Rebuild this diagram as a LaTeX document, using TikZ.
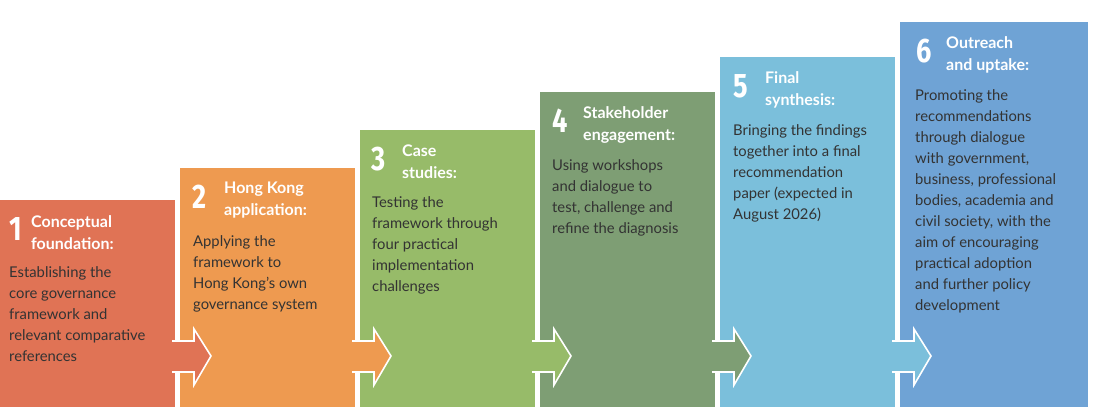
\documentclass[tikz,border=0pt]{standalone}
\usepackage{fontspec}
\setmainfont{Lato}
\newfontfamily\numfont{Fira Sans}
\definecolor{cA}{HTML}{E07355}
\definecolor{cB}{HTML}{EE9A50}
\definecolor{cC}{HTML}{97BB69}
\definecolor{cD}{HTML}{7E9E74}
\definecolor{cE}{HTML}{7BBFDB}
\definecolor{cF}{HTML}{6FA3D5}
\definecolor{ink}{HTML}{333333}
\newcommand{\stagebox}[5]{% name, colour, left, top, right
  \fill[#2] (#3,#4) rectangle (#5,407);
  \coordinate (#1) at (#3,#4);
}
\newcommand{\stagearrow}[3]{% colour, box right edge, next box left
  \fill[#1, draw=white, line width=1.6pt] (#2-2,341) -- (#2+19,341) -- (#2+19,329) -- (#2+36,356)
    -- (#2+19,385) -- (#2+19,372) -- (#2-2,372) -- cycle;
  \fill[#1] (#2-4,342) rectangle (#2+1,371);
}
\begin{document}
\begin{tikzpicture}[x=1pt, y=-1pt,
    num/.style={font=\fontsize{34}{34}\numfont\bfseries, text=white, anchor=north west, inner sep=0pt, xscale=0.8},
    head/.style={font=\fontsize{16}{22}\selectfont\bfseries, text=white, anchor=north west, inner sep=0pt, align=left},
    body/.style={font=\fontsize{14.8}{21}\selectfont, text=ink, anchor=north west, inner sep=0pt, align=left}
    ]
    \useasboundingbox (0,0) rectangle (1098,407);

    \stagebox{s1}{cA}{0}{200}{175}
    \stagebox{s2}{cB}{180}{168}{355}
    \stagebox{s3}{cC}{360}{130}{535}
    \stagebox{s4}{cD}{540}{92}{715}
    \stagebox{s5}{cE}{720}{57}{895}
    \stagebox{s6}{cF}{900}{22}{1088}

    \stagearrow{cA}{175}{180}
    \stagearrow{cB}{355}{360}
    \stagearrow{cC}{535}{540}
    \stagearrow{cD}{715}{720}
    \stagearrow{cE}{895}{900}

    % stage 1
    \node[num] (n1) at (9,217) {1};
    \node[head] (h1) at (31,215) {Conceptual\\foundation:};
    \node[body] (b1) at (9,266) {Establishing the\\core governance\\framework and\\relevant comparative\\references};
    % stage 2
    \node[num] (n2) at (192,185) {2};
    \node[head] (h2) at (224,182) {Hong Kong\\application:};
    \node[body] (b2) at (193,235) {Applying the\\framework to\\Hong Kong's own\\governance system};
    % stage 3
    \node[num] (n3) at (371,147) {3};
    \node[head] (h3) at (402,145) {Case\\studies:};
    \node[body] (b3) at (372,196) {Testing the\\framework through\\four practical\\implementation\\challenges};
    % stage 4
    \node[num] (n4) at (552,109) {4};
    \node[head] (h4) at (583,106) {Stakeholder\\engagement:};
    \node[body] (b4) at (552,159) {Using workshops\\and dialogue to\\test, challenge and\\refine the diagnosis};
    % stage 5
    \node[num] (n5) at (733,74) {5};
    \node[head] (h5) at (765,71) {Final\\synthesis:};
    \node[body] (b5) at (733,124) {Bringing the findings\\together into a final\\recommendation\\paper (expected in\\August 2026)};
    % stage 6
    \node[num] (n6) at (916,39) {6};
    \node[head] (h6) at (946,36) {Outreach\\and uptake:};
    \node[body] (b6) at (915,89) {Promoting the\\recommendations\\through dialogue\\with government,\\business, professional\\bodies, academia and\\civil society, with the\\aim of encouraging\\practical adoption\\and further policy\\development};
\end{tikzpicture}
\end{document}
